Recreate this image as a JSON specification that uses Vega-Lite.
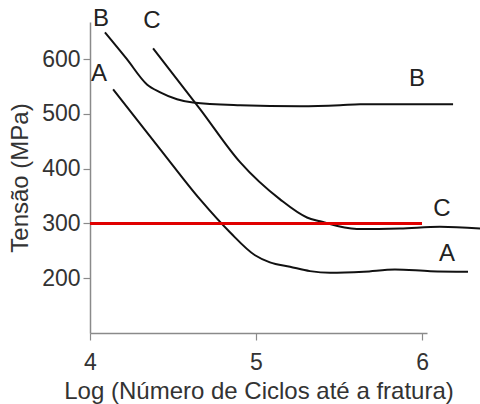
{
  "$schema": "https://vega.github.io/schema/vega-lite/v6.json",
  "autosize": {"type": "none"},
  "padding": {"left": 90, "top": 22, "right": 53, "bottom": 71},
  "width": 337,
  "height": 311,
  "background": "white",
  "config": {
    "view": {"stroke": null},
    "font": "Liberation Sans",
    "axis": {
      "grid": false,
      "domainColor": "#8a8a8a",
      "domainWidth": 1.5,
      "tickColor": "#8a8a8a",
      "tickWidth": 1.2,
      "tickSize": 7,
      "labelFont": "Liberation Sans",
      "labelFontSize": 23,
      "labelColor": "#333333",
      "labelOverlap": false,
      "labelFlush": false,
      "labelBound": false,
      "titleFont": "Liberation Sans",
      "titleFontSize": 24,
      "titleFontWeight": "normal",
      "titleColor": "#333333"
    }
  },
  "datasets": {
    "curves": [
      {"s": "A", "x": 4.139, "y": 545},
      {"s": "A", "x": 4.422, "y": 436},
      {"s": "A", "x": 4.663, "y": 344},
      {"s": "A", "x": 4.843, "y": 284},
      {"s": "A", "x": 4.994, "y": 242},
      {"s": "A", "x": 5.084, "y": 229},
      {"s": "A", "x": 5.205, "y": 221},
      {"s": "A", "x": 5.325, "y": 213},
      {"s": "A", "x": 5.446, "y": 210},
      {"s": "A", "x": 5.65, "y": 212},
      {"s": "A", "x": 5.837, "y": 216},
      {"s": "A", "x": 6.05, "y": 213},
      {"s": "A", "x": 6.277, "y": 212},
      {"s": "B", "x": 4.09, "y": 649},
      {"s": "B", "x": 4.22, "y": 601},
      {"s": "B", "x": 4.343, "y": 554},
      {"s": "B", "x": 4.42, "y": 540},
      {"s": "B", "x": 4.524, "y": 527},
      {"s": "B", "x": 4.62, "y": 521},
      {"s": "B", "x": 4.904, "y": 516},
      {"s": "B", "x": 5.265, "y": 514},
      {"s": "B", "x": 5.506, "y": 516},
      {"s": "B", "x": 5.627, "y": 518},
      {"s": "B", "x": 6.187, "y": 518},
      {"s": "C", "x": 4.38, "y": 620},
      {"s": "C", "x": 4.663, "y": 509},
      {"s": "C", "x": 4.904, "y": 412},
      {"s": "C", "x": 5.145, "y": 344},
      {"s": "C", "x": 5.307, "y": 311},
      {"s": "C", "x": 5.386, "y": 304},
      {"s": "C", "x": 5.608, "y": 290},
      {"s": "C", "x": 5.867, "y": 291},
      {"s": "C", "x": 6.108, "y": 294},
      {"s": "C", "x": 6.35, "y": 291}
    ],
    "labels": [
      {"t": "B", "x": 4.066, "y": 673},
      {"t": "C", "x": 4.373, "y": 669},
      {"t": "A", "x": 4.054, "y": 573},
      {"t": "B", "x": 5.97, "y": 563},
      {"t": "C", "x": 6.12, "y": 326},
      {"t": "A", "x": 6.15, "y": 244}
    ],
    "ref": [
      {"x": 4, "x2": 6, "y": 300}
    ]
  },
  "layer": [
    {
      "data": {"name": "curves"},
      "mark": {"type": "line", "color": "#111111", "strokeWidth": 2, "interpolate": "monotone"},
      "encoding": {
        "x": {
          "field": "x", "type": "quantitative",
          "scale": {"domain": [4, 6.03], "nice": false, "zero": false},
          "axis": {"values": [4, 5, 6], "labelExpr": "datum.value", "title": "Log (Número de Ciclos até a fratura)", "labelPadding": 11, "titlePadding": 5}
        },
        "y": {
          "field": "y", "type": "quantitative",
          "scale": {"domain": [100, 668], "nice": false, "zero": false},
          "axis": {"values": [200, 300, 400, 500, 600], "title": "Tensão (MPa)", "labelPadding": 3, "titlePadding": 9}
        },
        "detail": {"field": "s", "type": "nominal"}
      }
    },
    {
      "data": {"name": "ref"},
      "mark": {"type": "rule", "color": "#e00000", "strokeWidth": 3},
      "encoding": {
        "x": {"field": "x", "type": "quantitative"},
        "x2": {"field": "x2"},
        "y": {"field": "y", "type": "quantitative"}
      }
    },
    {
      "data": {"name": "labels"},
      "mark": {"type": "text", "font": "Liberation Sans", "fontSize": 24, "color": "#222222", "align": "center", "baseline": "middle"},
      "encoding": {
        "x": {"field": "x", "type": "quantitative"},
        "y": {"field": "y", "type": "quantitative"},
        "text": {"field": "t"}
      }
    }
  ]
}
